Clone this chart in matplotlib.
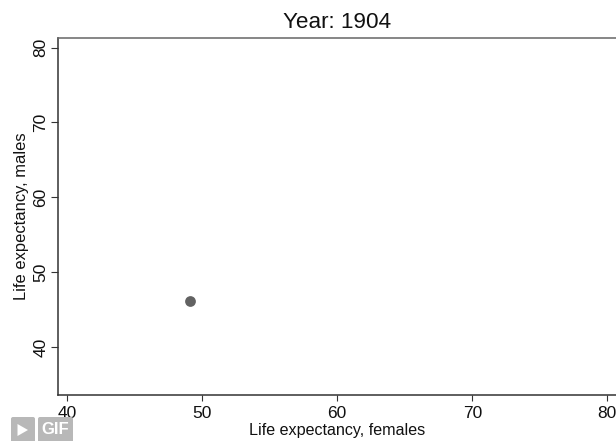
import matplotlib
matplotlib.use("Agg")
import matplotlib.pyplot as plt
from matplotlib.patches import FancyBboxPatch, Polygon

plt.rcParams['font.family'] = ['Liberation Sans', 'DejaVu Sans']

females = [49.1]
males = [46.2]
x_ticks = [40, 50, 60, 70, 80]
y_ticks = [40, 50, 60, 70, 80]
title = "Year: 1904"
xlabel = "Life expectancy, females"
ylabel = "Life expectancy, males"

W, H = 616, 441
fig = plt.figure(figsize=(W/100, H/100), dpi=100)
ax = fig.add_axes([57.5/W, 1-395/H, (W-57.5)/W, (395-38)/H])
ax.set_xlim(39.3, 80.64)
ax.set_ylim(33.6, 81.27)
ax.scatter(females, males, s=60, color='#626262', linewidths=0, zorder=3)

ax.set_xticks(x_ticks)
ax.set_yticks(y_ticks)
ax.tick_params(axis='x', length=4.5, width=0.8, color='#333333', labelsize=12.5, pad=3.5, labelcolor='#111111')
ax.tick_params(axis='y', length=5, width=0.8, color='#333333', labelsize=12.5, pad=1.5, labelcolor='#111111')
for t in ax.get_yticklabels():
    t.set_rotation(90)
    t.set_va('center')
for s in ['left', 'bottom', 'top']:
    ax.spines[s].set_linewidth(1.1)
    ax.spines[s].set_color('#333333')
ax.spines['top'].set_color('#666666')
ax.spines['right'].set_visible(False)

fig.text(337/W, 1-22/H, title, ha='center', va='center', fontsize=16.2, color='#111111')
fig.text(337/W, 1-430/H, xlabel, ha='center', va='center', fontsize=11.6, color='#111111')
fig.text(22/W, 1-216/H, ylabel, ha='center', va='center', rotation=90, fontsize=11.9, color='#111111')

# Overlay badge
bg = fig.add_axes([0, 0, 1, 1], facecolor='none')
bg.set_xlim(0, W); bg.set_ylim(H, 0); bg.axis('off')
grey = '#b8b8b8'
for x0, x1 in [(11, 35), (38, 73)]:
    bg.add_patch(FancyBboxPatch((x0+2, 419), x1-x0-4, 24,
                                boxstyle='round,pad=2', fc=grey, ec='none'))
bg.add_patch(Polygon([(17.5, 424), (17.5, 436), (28, 430)], closed=True, fc='white', ec='none'))
bg.text(55.5, 430, "GIF", ha='center', va='center', fontsize=12, fontweight='bold', color='white')

fig.savefig("out.png", dpi=100)
